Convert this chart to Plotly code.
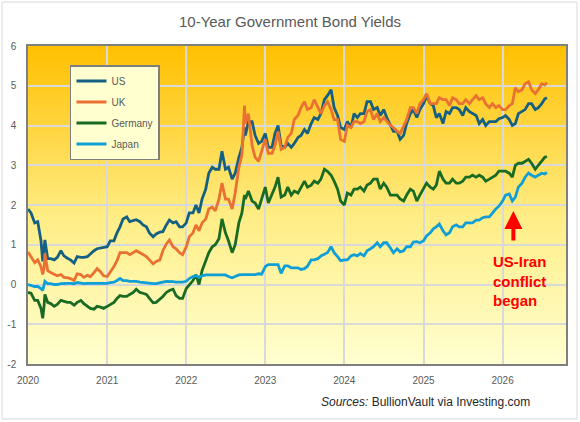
import base64
import pandas as pd
import plotly.graph_objects as go

# ---------------- data (semi-monthly readings, plus a few event days) ----------------
BASE_DATES = pd.date_range("2020-01-01", "2026-07-15", freq="SMS")
EXTRA_DATES = pd.to_datetime(["2020-03-09", "2020-03-19", "2022-09-27", "2026-07-25"])
DATES = BASE_DATES.append(EXTRA_DATES).sort_values()

US = [1.90,1.80, 1.55,1.58, 1.10,0.58,0.90,1.12, 0.65,0.65, 0.62,0.68, 0.85,0.72, 0.66,0.62, 0.54,0.70, 0.68,0.68, 0.70,0.78, 0.85,0.90, 0.92,0.92,
      0.95,1.10, 1.10,1.30, 1.45,1.65, 1.70,1.58, 1.60,1.63, 1.58,1.50, 1.45,1.30, 1.20,1.27, 1.32,1.33, 1.50,1.62, 1.55,1.58, 1.45,1.45,
      1.55,1.80, 1.80,2.00, 1.80,2.15, 2.40,2.80, 2.95,2.90, 2.90,3.35, 2.90,2.95, 2.65,2.80, 3.20,3.45,3.95, 3.75,4.10, 4.10,3.75, 3.55,3.60,
      3.80,3.45, 3.45,3.80, 4.00,3.50, 3.45,3.55, 3.45,3.55, 3.70,3.75, 3.90,3.80, 4.05,4.20, 4.15,4.30, 4.65,4.75, 4.90,4.45, 4.25,3.95,
      3.90,4.10, 3.95,4.30, 4.20,4.30, 4.30,4.60, 4.60,4.40, 4.45,4.25, 4.40,4.20, 4.00,3.85, 3.85,3.65, 3.75,4.05, 4.30,4.40, 4.20,4.40,
      4.55,4.75, 4.55,4.50, 4.20,4.30, 4.05,4.35, 4.30,4.45, 4.45,4.40, 4.25,4.45, 4.35,4.30, 4.25,4.05, 4.15,4.00, 4.10,4.10, 4.10,4.17,
      4.20,4.25, 4.15,4.00, 4.05,4.30, 4.35,4.40, 4.55,4.55, 4.40,4.45, 4.55,4.67,4.70]

UK = [0.82,0.70, 0.55,0.62, 0.45,0.25,0.40,0.78, 0.35,0.30, 0.25,0.22, 0.25,0.18, 0.17,0.15, 0.10,0.27, 0.25,0.18, 0.23,0.20, 0.30,0.40, 0.32,0.22,
      0.20,0.30, 0.45,0.60, 0.80,0.80, 0.80,0.75, 0.80,0.85, 0.80,0.75, 0.70,0.62, 0.52,0.58, 0.62,0.85, 1.02,1.12, 0.95,0.90, 0.80,0.75,
      0.95,1.20, 1.30,1.50, 1.35,1.55, 1.65,1.90, 1.95,1.85, 2.15,2.55, 2.15,2.15, 1.90,2.30, 2.95,3.25,4.50, 4.05,4.30, 3.50,3.20, 3.10,3.35,
      3.65,3.30, 3.30,3.50, 3.85,3.40, 3.45,3.70, 3.80,4.15, 4.25,4.45, 4.60,4.40, 4.45,4.65, 4.45,4.30, 4.50,4.60, 4.40,4.15, 4.15,3.65,
      3.60,4.00, 3.95,4.10, 4.10,4.05, 4.10,4.35, 4.40,4.15, 4.30,4.10, 4.20,4.10, 4.00,3.95, 3.85,3.80, 4.00,4.15, 4.45,4.45, 4.30,4.55,
      4.65,4.80, 4.55,4.55, 4.55,4.70, 4.65,4.65, 4.50,4.70, 4.65,4.55, 4.55,4.65, 4.55,4.65, 4.75,4.65, 4.70,4.55, 4.45,4.55, 4.45,4.50,
      4.40,4.40, 4.50,4.55, 4.95,4.85, 4.90,5.05, 5.10,4.90, 4.80,4.90, 5.05,5.02,5.08]

GERMANY = [-0.20,-0.22, -0.40,-0.40, -0.60,-0.85,-0.55,-0.25, -0.45,-0.48, -0.55,-0.50, -0.40,-0.42, -0.45,-0.45, -0.52,-0.45, -0.40,-0.48, -0.55,-0.60, -0.62,-0.55, -0.57,-0.60,
           -0.55,-0.50, -0.45,-0.35, -0.28,-0.30, -0.30,-0.25, -0.20,-0.12, -0.20,-0.22, -0.25,-0.35, -0.46,-0.45, -0.38,-0.30, -0.20,-0.15, -0.12,-0.28, -0.35,-0.35,
           -0.10,-0.02, 0.10,0.25, 0.00,0.35, 0.60,0.80, 0.95,1.00, 1.15,1.65, 1.30,1.10, 0.80,1.00, 1.55,1.80,2.25, 2.15,2.35, 2.10,2.05, 1.90,2.15,
           2.45,2.05, 2.25,2.45, 2.70,2.20, 2.25,2.45, 2.25,2.35, 2.30,2.45, 2.60,2.45, 2.50,2.60, 2.55,2.65, 2.90,2.85, 2.75,2.60, 2.40,2.10,
           2.00,2.30, 2.25,2.40, 2.40,2.45, 2.35,2.50, 2.55,2.65, 2.65,2.40, 2.55,2.45, 2.25,2.25, 2.25,2.15, 2.10,2.25, 2.40,2.35, 2.10,2.25,
           2.40,2.55, 2.45,2.40, 2.50,2.85, 2.65,2.55, 2.55,2.65, 2.55,2.55, 2.60,2.70, 2.70,2.75, 2.70,2.75, 2.70,2.60, 2.65,2.70, 2.75,2.85,
           2.85,2.85, 2.80,2.70, 3.00,3.05, 3.05,3.10, 3.15,3.05, 2.90,3.00, 3.10,3.20,3.22]

JAPAN = [0.00,-0.02, -0.05,-0.05, -0.10,-0.15,0.02,0.08, 0.02,0.02, 0.00,0.00, 0.02,0.03, 0.03,0.03, 0.02,0.05, 0.03,0.02, 0.03,0.03, 0.03,0.02, 0.02,0.02,
         0.03,0.05, 0.06,0.10, 0.15,0.10, 0.10,0.08, 0.08,0.08, 0.06,0.05, 0.03,0.02, 0.02,0.02, 0.05,0.06, 0.08,0.08, 0.07,0.06, 0.06,0.06,
         0.08,0.15, 0.20,0.22, 0.18,0.22, 0.24,0.24, 0.24,0.25, 0.24,0.25, 0.24,0.20, 0.17,0.20, 0.24,0.25,0.25, 0.25,0.25, 0.25,0.25, 0.27,0.26,
         0.45,0.50, 0.50,0.50, 0.50,0.28, 0.47,0.47, 0.42,0.42, 0.42,0.38, 0.40,0.46, 0.62,0.62, 0.65,0.72, 0.77,0.80, 0.95,0.80, 0.70,0.60,
         0.62,0.62, 0.72,0.75, 0.72,0.78, 0.72,0.85, 0.90,0.95, 1.05,0.95, 1.05,1.05, 0.92,0.80, 0.90,0.82, 0.85,0.95, 0.95,1.07, 1.08,1.05,
         1.10,1.22, 1.30,1.40, 1.45,1.52, 1.35,1.25, 1.30,1.45, 1.50,1.45, 1.45,1.55, 1.55,1.55, 1.62,1.62, 1.68,1.70, 1.70,1.80, 1.90,1.97,
         2.10,2.25, 2.28,2.10, 2.20,2.45, 2.55,2.70, 2.80,2.75, 2.70,2.75, 2.80,2.78,2.82]

SERIES = [("US", US, "#156082"), ("UK", UK, "#E97132"),
          ("Germany", GERMANY, "#196B24"), ("Japan", JAPAN, "#0F9ED5")]

Y_TICKS = [-2, -1, 0, 1, 2, 3, 4, 5, 6]
Y_TICK_LABELS = ["-2", "-1", "0", "1", "2", "3", "4", "5", "6"]
TITLE = "10-Year Government Bond Yields"
EVENT_DATE = "2026-02-20"
EVENT_TEXT = "US-Iran<br>conflict<br>began"
SOURCE_TEXT = "<i>Sources:</i> BullionVault via Investing.com"

for _, vals, _ in SERIES:
    assert len(vals) == len(DATES), (len(vals), len(DATES))

FONT = "Liberation Sans, Arial, sans-serif"
GRAY = "#595959"

fig = go.Figure()
for i, (name, vals, color) in enumerate(SERIES):
    fig.add_trace(go.Scatter(x=DATES, y=vals, name=name, mode="lines",
                             line=dict(color=color, width=2.8),
                             legendgroup=name))

# gradient background of the plot area
svg = ('<svg xmlns="http://www.w3.org/2000/svg" width="100" height="100" '
       'viewBox="0 0 100 100" preserveAspectRatio="none"><defs>'
       '<linearGradient id="g" x1="0" y1="0" x2="0" y2="1">'
       '<stop offset="0" stop-color="#FFC000"/>'
       '<stop offset="0.55" stop-color="#FFEE88"/>'
       '<stop offset="1" stop-color="#FFFFD0"/>'
       '</linearGradient></defs><rect width="100" height="100" fill="url(#g)"/></svg>')
src = "data:image/svg+xml;base64," + base64.b64encode(svg.encode()).decode()

fig.update_layout(
    width=580, height=422,
    margin=dict(l=28, r=14, t=46, b=58),
    paper_bgcolor="white", plot_bgcolor="rgba(0,0,0,0)",
    font=dict(family=FONT, color=GRAY, size=10),
    title=dict(text=TITLE, x=0.5, xanchor="center", y=1 - 22 / 422, yanchor="middle",
               font=dict(family=FONT, size=15, color=GRAY)),
    images=[dict(source=src, xref="paper", yref="paper", x=0, y=1, sizex=1, sizey=1,
                 sizing="stretch", layer="below")],
    showlegend=True,
    legend=dict(x=0.078, y=(364 - 65) / 318, xanchor="left", yanchor="top",
                bgcolor="#FFFFD0", bordercolor="#7F7F7F", borderwidth=1.5,
                font=dict(size=10, color=GRAY), tracegroupgap=2, itemwidth=30,
                entrywidth=55, entrywidthmode="pixels"),
    xaxis=dict(type="date", range=["2020-01-01", "2026-10-21"],
               tick0="2020-01-01", dtick="M12", tickformat="%Y",
               showgrid=True, gridcolor="#D9D9D9", gridwidth=1.5,
               showline=True, linecolor="#7F7F7F", linewidth=1.5, mirror=True,
               ticks="outside", ticklen=6, tickcolor="rgba(0,0,0,0)",
               tickfont=dict(size=10, color=GRAY), zeroline=False, automargin=False),
    yaxis=dict(range=[-2, 6], tickmode="array", tickvals=Y_TICKS, ticktext=Y_TICK_LABELS,
               showgrid=True, gridcolor="#D9D9D9", gridwidth=1.5,
               showline=True, linecolor="#7F7F7F", linewidth=1.5, mirror=True,
               ticks="outside", ticklen=8, tickcolor="rgba(0,0,0,0)",
               tickfont=dict(size=10, color=GRAY), zeroline=False, automargin=False),
)

# chart border
fig.add_shape(type="rect", xref="paper", yref="paper",
              x0=(2 - 28) / 538, x1=(577 - 28) / 538,
              y0=(364 - 419) / 318, y1=(364 - 2) / 318,
              line=dict(color="#D9D9D9", width=1), fillcolor="rgba(0,0,0,0)", layer="below")

# red arrow
fig.add_annotation(x=EVENT_DATE, y=1.85, xref="x", yref="y", text="",
                   showarrow=True, ax=0, ay=31, arrowhead=2, arrowsize=0.9,
                   arrowwidth=4, arrowcolor="#FF0000")
fig.add_annotation(x="2025-11-10", y=0.85, xref="x", yref="y", text=EVENT_TEXT,
                   showarrow=False, xanchor="left", yanchor="top", align="left",
                   font=dict(family=FONT, size=15, color="#FF0000", weight="bold"))
fig.add_annotation(x=(532 - 28) / 538, y=(364 - 402) / 318, xref="paper", yref="paper",
                   text=SOURCE_TEXT, showarrow=False, xanchor="right", yanchor="middle",
                   font=dict(family=FONT, size=12, color="#262626"))

fig.write_html("out.html")
